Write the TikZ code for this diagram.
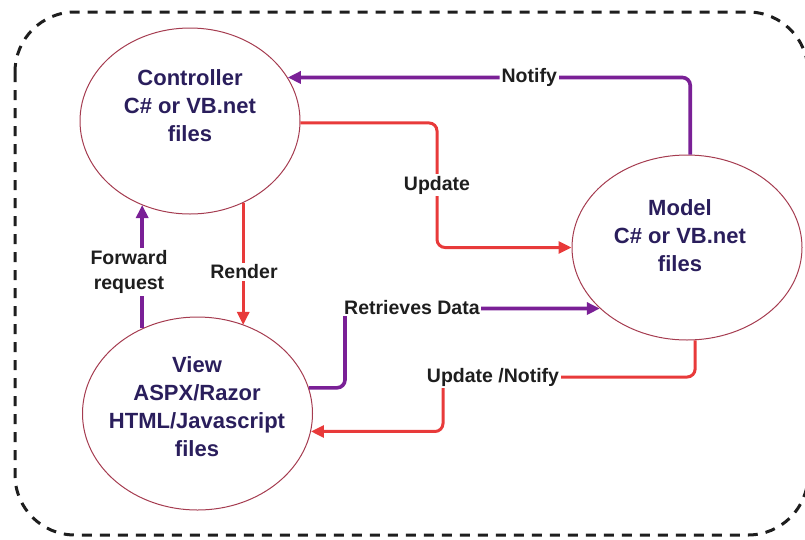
\documentclass[tikz,border=0pt]{standalone}
\usepackage{fontspec}
\setmainfont{Liberation Sans}
\usetikzlibrary{shapes.geometric,arrows.meta,calc}
\definecolor{mvcpurple}{RGB}{122,32,150}
\definecolor{mvcred}{RGB}{232,58,58}
\definecolor{mvcedge}{RGB}{165,60,80}
\definecolor{mvctext}{RGB}{42,30,92}
\definecolor{lbltext}{RGB}{30,30,30}
\definecolor{framegray}{RGB}{30,30,30}
\begin{document}
\begin{tikzpicture}[x=1pt,y=-1pt,
  comp/.style={ellipse,draw=mvcedge,line width=1pt,inner sep=0pt},
  comptext/.style={font=\bfseries\fontsize{22}{28}\selectfont,text=mvctext,align=center},
  lbl/.style={font=\bfseries\fontsize{19.5}{25}\selectfont,text=lbltext,fill=white,inner sep=2pt,align=center},
  pline/.style={draw=mvcpurple,line width=3.6pt,rounded corners=8pt,-{Triangle[length=13pt,width=12pt]}},
  rline/.style={draw=mvcred,line width=3pt,rounded corners=8pt,-{Triangle[length=13pt,width=12pt]}},
  frame/.style={draw=framegray,line width=3pt,dash pattern=on 10pt off 8pt,rounded corners=60pt}]
\useasboundingbox (0,0) rectangle (805,539);
\draw[frame] (15,12) rectangle (808,535);

% components
\node[comp,minimum width=220pt,minimum height=186pt] (ctrl) at (190,121) {};
\node[comptext] (ctrltxt) at (190,106) {Controller\\C\# or VB.net\\files};
\node[comp,minimum width=230pt,minimum height=193pt] (view) at (197.5,413.5) {};
\node[comptext] (viewtxt) at (197,407) {View\\ASPX/Razor\\HTML/Javascript\\files};
\node[comp,minimum width=230pt,minimum height=185pt] (model) at (687,247.5) {};
\node[comptext] (modeltxt) at (680,236) {Model\\C\# or VB.net\\files};

% helper coordinates
\coordinate (updc) at (437,185);
\coordinate (rdc) at (345,350);
\coordinate (unc) at (443,377);

% Notify
\draw[pline] (model.88) |- node[lbl,pos=0.7] (notifylbl) {Notify} (ctrl.24);
% Update
\draw[rline] (ctrl.-1) -| (updc) |- (model.180);
\node[lbl] (updlbl) at (updc) {Update};
% Forward request
\draw[pline] (view.123.9) -- (view.123.9 |- ctrl.-120.5);
\node[lbl] (fwdlbl) at (129,272) {Forward\\request};
% Render
\draw[rline] (ctrl.-57) -- (ctrl.-57 |- view.62.8);
\node[lbl] (renderlbl) at (244,272) {Render};
% Retrieves Data
\draw[pline] (view.13.5) -| (rdc) |- (model.-145);
\node[lbl,anchor=west,inner sep=1pt] (rdlbl) at (343,308) {Retrieves Data};
% Update /Notify
\draw[rline] (model.-85) |- (unc) |- (view.-9.3);
\node[lbl] (unlbl) at (493,377) {Update /Notify};
\end{tikzpicture}
\end{document}
